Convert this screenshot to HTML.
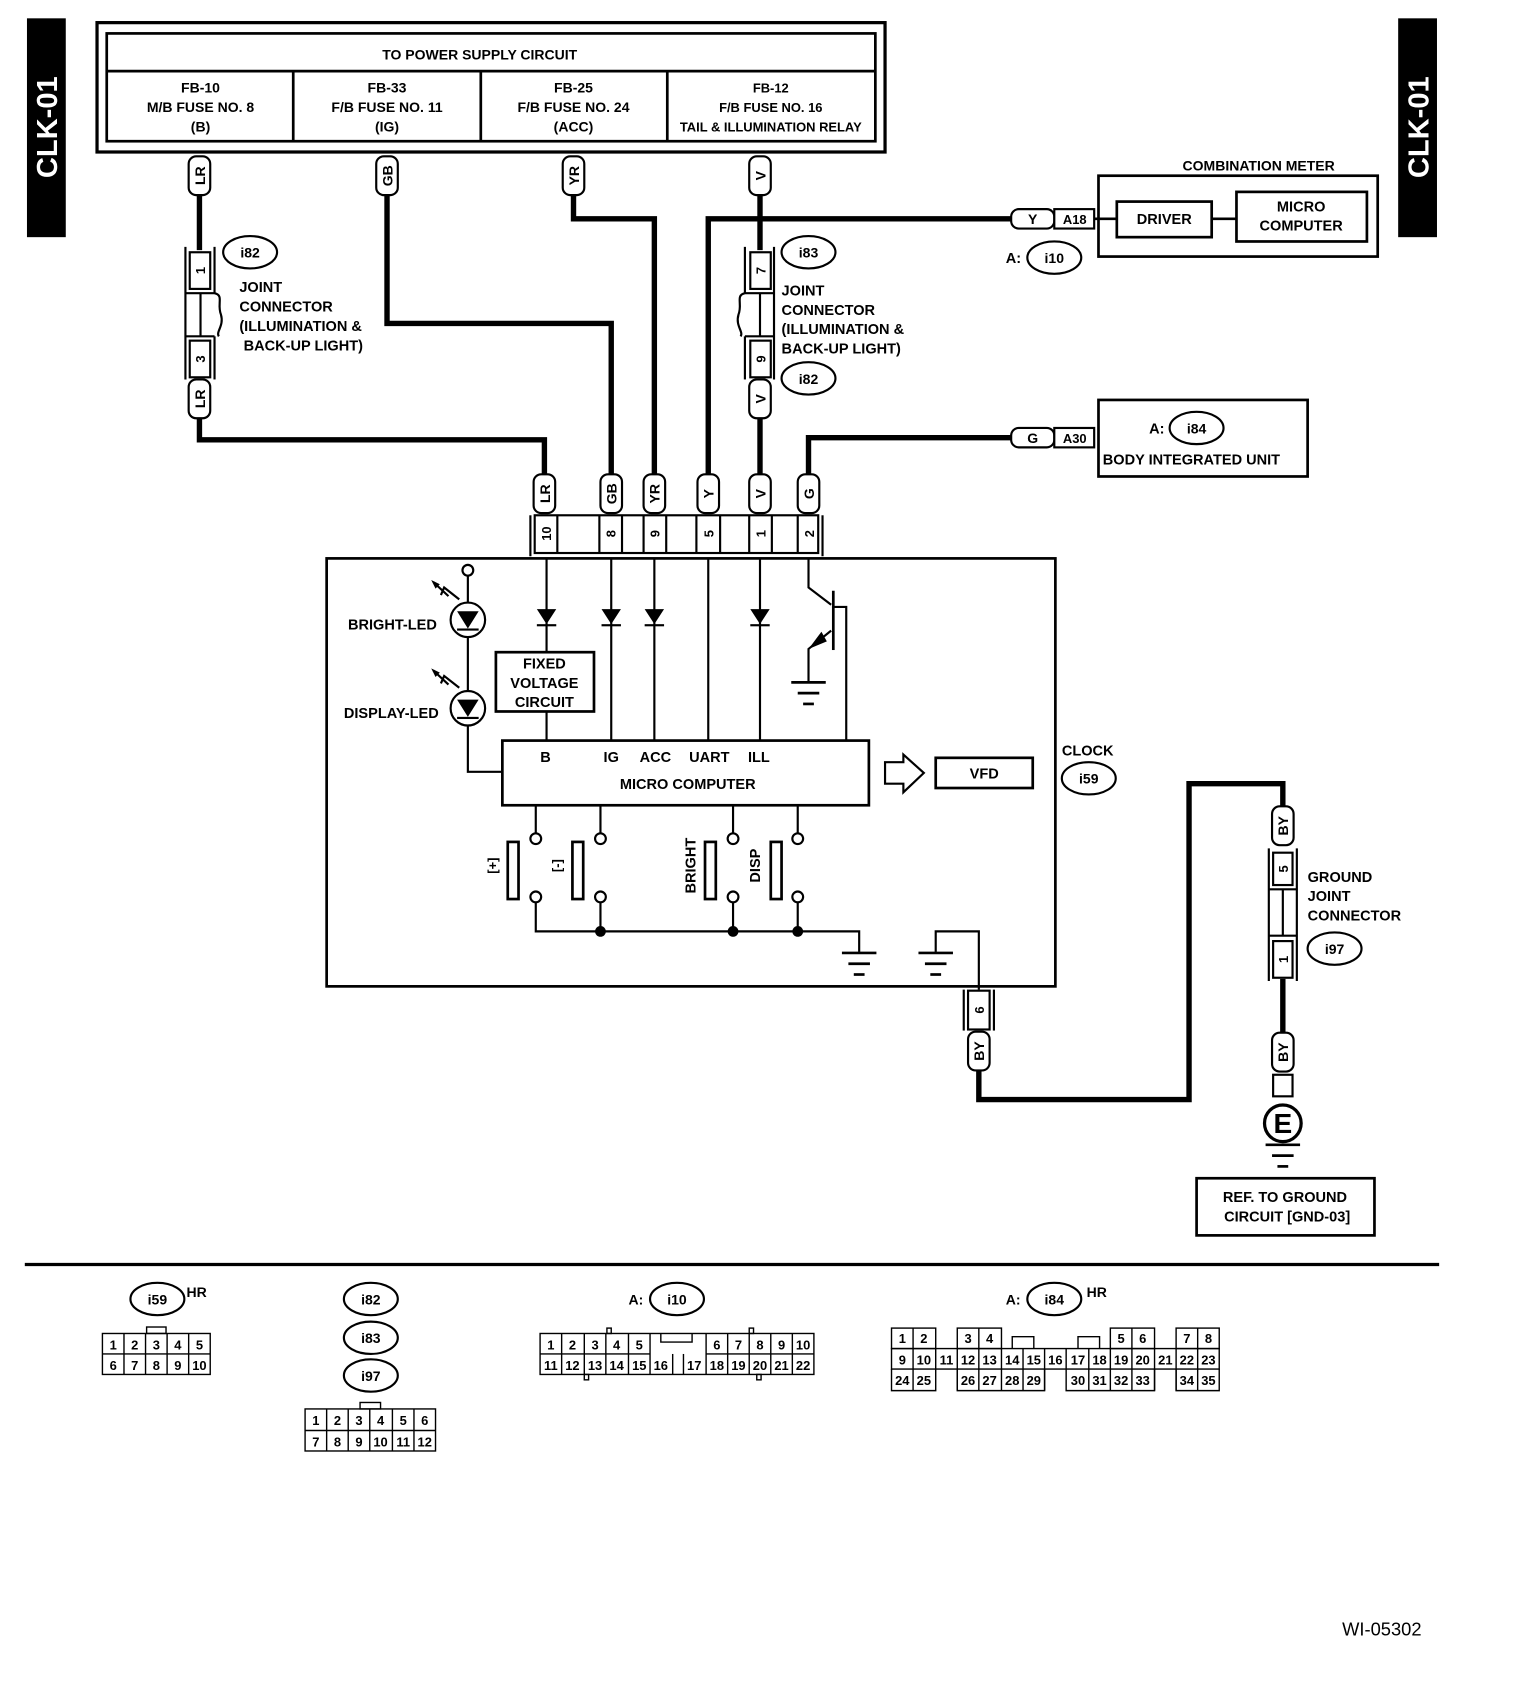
<!DOCTYPE html>
<html><head><meta charset="utf-8"><style>
html,body{margin:0;padding:0;background:#fff}
svg{display:block}
text{font-family:"Liberation Sans",sans-serif;font-weight:bold;fill:#000}
</style></head><body>
<svg width="1520" height="1700" viewBox="0 0 1410 1577" xmlns="http://www.w3.org/2000/svg">
<defs>
<g id="gnd"><line x1="-16" y1="0" x2="16" y2="0" stroke="#000" stroke-width="2.5"/><line x1="-10" y1="10" x2="10" y2="10" stroke="#000" stroke-width="2.5"/><line x1="-5" y1="20" x2="5" y2="20" stroke="#000" stroke-width="2.5"/></g>
<path id="dio" d="M-9,-8 L9,-8 L0,7 Z M-9,8 L9,8" fill="#000" stroke="#000" stroke-width="2"/>
</defs>
<rect width="1410" height="1577" fill="#fff"/>
<!-- CLK-01 tabs -->
<rect x="25" y="17" width="36" height="203" fill="#000"/>
<text transform="translate(53,118) rotate(-90)" text-anchor="middle" font-size="27" style="fill:#fff">CLK-01</text>
<rect x="1297" y="17" width="36" height="203" fill="#000"/>
<text transform="translate(1325,118) rotate(-90)" text-anchor="middle" font-size="27" style="fill:#fff">CLK-01</text>

<g fill="none" stroke="#000">
<!-- power box -->
<rect x="90" y="21" width="731" height="120" stroke-width="3"/>
<rect x="99" y="31" width="713" height="100" stroke-width="2.5"/>
<line x1="99" y1="66" x2="812" y2="66" stroke-width="2.5"/>
<line x1="272" y1="66" x2="272" y2="131" stroke-width="2.5"/>
<line x1="446" y1="66" x2="446" y2="131" stroke-width="2.5"/>
<line x1="619" y1="66" x2="619" y2="131" stroke-width="2.5"/>

<!-- thick wires -->
<g stroke-width="5">
<polyline points="185,180 185,232"/>
<polyline points="185,388 185,408 505,408 505,440"/>
<polyline points="359,180 359,300 567,300 567,440"/>
<polyline points="532,180 532,203 607,203 607,440"/>
<polyline points="657,440 657,203 938,203"/>
<polyline points="705,180 705,232"/>
<polyline points="705,388 705,440"/>
<polyline points="750,440 750,406 938,406"/>
<polyline points="908,993 908,1020 1103,1020 1103,727 1190,727 1190,748"/>
<polyline points="1190,908 1190,958"/>
</g>
</g>
<text x="445" y="55" font-size="13" text-anchor="middle">TO POWER SUPPLY CIRCUIT</text>
<g font-size="13" text-anchor="middle">
<text x="186" y="86">FB-10</text><text x="186" y="104">M/B FUSE NO. 8</text><text x="186" y="122">(B)</text>
<text x="359" y="86">FB-33</text><text x="359" y="104">F/B FUSE NO. 11</text><text x="359" y="122">(IG)</text>
<text x="532" y="86">FB-25</text><text x="532" y="104">F/B FUSE NO. 24</text><text x="532" y="122">(ACC)</text>
<text x="715" y="86" font-size="12">FB-12</text><text x="715" y="104" font-size="12">F/B FUSE NO. 16</text><text x="715" y="122" font-size="12">TAIL &amp; ILLUMINATION RELAY</text>
</g>

<!-- pills -->
<g font-size="13" text-anchor="middle" stroke="#000" stroke-width="2">
<g transform="translate(185,163)"><rect x="-10" y="-18" width="20" height="36" rx="7" fill="#fff"/><text transform="rotate(-90)" y="5" stroke="none">LR</text></g>
<g transform="translate(359,163)"><rect x="-10" y="-18" width="20" height="36" rx="7" fill="#fff"/><text transform="rotate(-90)" y="5" stroke="none">GB</text></g>
<g transform="translate(532,163)"><rect x="-10" y="-18" width="20" height="36" rx="7" fill="#fff"/><text transform="rotate(-90)" y="5" stroke="none">YR</text></g>
<g transform="translate(705,163)"><rect x="-10" y="-18" width="20" height="36" rx="7" fill="#fff"/><text transform="rotate(-90)" y="5" stroke="none">V</text></g>
<g transform="translate(185,370)"><rect x="-10" y="-18" width="20" height="36" rx="7" fill="#fff"/><text transform="rotate(-90)" y="5" stroke="none">LR</text></g>
<g transform="translate(705,370)"><rect x="-10" y="-18" width="20" height="36" rx="7" fill="#fff"/><text transform="rotate(-90)" y="5" stroke="none">V</text></g>
<g transform="translate(505,458)"><rect x="-10" y="-18" width="20" height="36" rx="7" fill="#fff"/><text transform="rotate(-90)" y="5" stroke="none">LR</text></g>
<g transform="translate(567,458)"><rect x="-10" y="-18" width="20" height="36" rx="7" fill="#fff"/><text transform="rotate(-90)" y="5" stroke="none">GB</text></g>
<g transform="translate(607,458)"><rect x="-10" y="-18" width="20" height="36" rx="7" fill="#fff"/><text transform="rotate(-90)" y="5" stroke="none">YR</text></g>
<g transform="translate(657,458)"><rect x="-10" y="-18" width="20" height="36" rx="7" fill="#fff"/><text transform="rotate(-90)" y="5" stroke="none">Y</text></g>
<g transform="translate(705,458)"><rect x="-10" y="-18" width="20" height="36" rx="7" fill="#fff"/><text transform="rotate(-90)" y="5" stroke="none">V</text></g>
<g transform="translate(750,458)"><rect x="-10" y="-18" width="20" height="36" rx="7" fill="#fff"/><text transform="rotate(-90)" y="5" stroke="none">G</text></g>
<g transform="translate(908,975)"><rect x="-10" y="-18" width="20" height="36" rx="7" fill="#fff"/><text transform="rotate(-90)" y="5" stroke="none">BY</text></g>
<g transform="translate(1190,766)"><rect x="-10" y="-18" width="20" height="36" rx="7" fill="#fff"/><text transform="rotate(-90)" y="5" stroke="none">BY</text></g>
<g transform="translate(1190,976)"><rect x="-10" y="-18" width="20" height="36" rx="7" fill="#fff"/><text transform="rotate(-90)" y="5" stroke="none">BY</text></g>
<!-- horizontal pills -->
<rect x="938" y="194" width="40" height="18" rx="7" fill="#fff"/><text x="958" y="208" stroke="none">Y</text>
<rect x="978" y="194" width="37" height="18" fill="#fff"/><text x="997" y="208" stroke="none" font-size="12">A18</text>
<rect x="938" y="397" width="40" height="18" rx="7" fill="#fff"/><text x="958" y="411" stroke="none">G</text>
<rect x="978" y="397" width="37" height="18" fill="#fff"/><text x="997" y="411" stroke="none" font-size="12">A30</text>
</g>

<!-- joint connectors -->
<g fill="none" stroke="#000" stroke-width="2">
<line x1="172" y1="229" x2="172" y2="352"/><line x1="199" y1="229" x2="199" y2="272"/><line x1="199" y1="312" x2="199" y2="352"/>
<rect x="176" y="234" width="19" height="34" fill="#fff"/>
<rect x="176" y="316" width="19" height="34" fill="#fff"/>
<line x1="172" y1="272" x2="199" y2="272"/><line x1="172" y1="312" x2="199" y2="312"/><line x1="186" y1="272" x2="186" y2="312"/>
<path d="M199,272 C208,274 201,282 205,292 C208,302 200,308 203,312"/>
<line x1="691" y1="229" x2="691" y2="272"/><line x1="691" y1="312" x2="691" y2="352"/><line x1="718" y1="229" x2="718" y2="352"/>
<rect x="696" y="234" width="19" height="34" fill="#fff"/>
<rect x="696" y="316" width="19" height="34" fill="#fff"/>
<line x1="691" y1="272" x2="718" y2="272"/><line x1="691" y1="312" x2="718" y2="312"/><line x1="705" y1="272" x2="705" y2="312"/>
<path d="M691,272 C682,274 689,282 685,292 C682,302 690,308 687,312"/>
<!-- ground joint -->
<line x1="1177" y1="787" x2="1177" y2="910"/><line x1="1203" y1="787" x2="1203" y2="910"/>
<rect x="1181" y="791" width="18" height="30" fill="#fff"/>
<rect x="1181" y="873" width="18" height="34" fill="#fff"/>
<line x1="1177" y1="825" x2="1203" y2="825"/><line x1="1177" y1="868" x2="1203" y2="868"/><line x1="1190" y1="825" x2="1190" y2="868"/>
<rect x="1181" y="997" width="18" height="20" fill="#fff"/>
<circle cx="1190" cy="1042" r="17" stroke-width="3"/>
<!-- connector 6 -->
<line x1="894" y1="918" x2="894" y2="956"/><line x1="922" y1="918" x2="922" y2="956"/>
<rect x="898" y="919" width="20" height="36" fill="#fff"/>
</g>
<g font-size="12" text-anchor="middle">
<text transform="translate(190,251) rotate(-90)">1</text>
<text transform="translate(190,333) rotate(-90)">3</text>
<text transform="translate(710,251) rotate(-90)">7</text>
<text transform="translate(710,333) rotate(-90)">9</text>
<text transform="translate(1195,806) rotate(-90)">5</text>
<text transform="translate(1195,890) rotate(-90)">1</text>
<text transform="translate(913,937) rotate(-90)">6</text>
</g>
<text x="1190" y="1051" font-size="26" text-anchor="middle">E</text>
<use href="#gnd" x="1190" y="1062"/>

<!-- labels -->
<g font-size="13.5">
<text x="222" y="271">JOINT</text><text x="222" y="289">CONNECTOR</text><text x="222" y="307">(ILLUMINATION &amp;</text><text x="226" y="325">BACK-UP LIGHT)</text>
<text x="725" y="274">JOINT</text><text x="725" y="292">CONNECTOR</text><text x="725" y="310">(ILLUMINATION &amp;</text><text x="725" y="328">BACK-UP LIGHT)</text>
<text x="1213" y="818">GROUND</text><text x="1213" y="836">JOINT</text><text x="1213" y="854">CONNECTOR</text>
<text x="1097" y="158" font-size="13">COMBINATION METER</text>
<text x="985" y="701">CLOCK</text>
<text x="933" y="244">A:</text>
<text x="1066" y="402">A:</text>
<text x="1023" y="431">BODY INTEGRATED UNIT</text>
</g>
<!-- ovals -->
<g fill="none" stroke="#000" stroke-width="2">
<ellipse cx="232" cy="234" rx="25" ry="15"/><ellipse cx="750" cy="234" rx="25" ry="15"/>
<ellipse cx="750" cy="351" rx="25" ry="15"/><ellipse cx="978" cy="239" rx="25" ry="15"/>
<ellipse cx="1110" cy="397" rx="25" ry="15"/><ellipse cx="1010" cy="722" rx="25" ry="15"/>
<ellipse cx="1238" cy="880" rx="25" ry="15"/>
<ellipse cx="146" cy="1205" rx="25" ry="15"/><ellipse cx="344" cy="1205" rx="25" ry="15"/>
<ellipse cx="344" cy="1241" rx="25" ry="15"/><ellipse cx="344" cy="1276" rx="25" ry="15"/>
<ellipse cx="628" cy="1205" rx="25" ry="15"/><ellipse cx="978" cy="1205" rx="25" ry="15"/>
</g>
<g font-size="13" text-anchor="middle">
<text x="232" y="239">i82</text><text x="750" y="239">i83</text><text x="750" y="356">i82</text>
<text x="978" y="244">i10</text><text x="1110" y="402">i84</text><text x="1010" y="727">i59</text>
<text x="1238" y="885">i97</text><text x="146" y="1210">i59</text><text x="344" y="1210">i82</text>
<text x="344" y="1246">i83</text><text x="344" y="1281">i97</text><text x="628" y="1210">i10</text>
<text x="978" y="1210">i84</text>
</g>
<text x="173" y="1203" font-size="13">HR</text>
<text x="583" y="1210" font-size="13">A:</text>
<text x="933" y="1210" font-size="13">A:</text>
<text x="1008" y="1203" font-size="13">HR</text>

<!-- combination meter / body unit boxes -->
<g fill="none" stroke="#000" stroke-width="2.5">
<rect x="1019" y="163" width="259" height="75"/>
<rect x="1036" y="187" width="88" height="33"/>
<rect x="1147" y="178" width="121" height="46"/>
<line x1="1015" y1="203" x2="1036" y2="203"/><line x1="1124" y1="203" x2="1147" y2="203"/>
<rect x="1019" y="371" width="194" height="71"/>
<rect x="1110" y="1093" width="165" height="53"/>
</g>
<g font-size="13.5" text-anchor="middle">
<text x="1080" y="208">DRIVER</text>
<text x="1207" y="196">MICRO</text><text x="1207" y="214">COMPUTER</text>
<text x="1192" y="1115">REF. TO GROUND</text><text x="1194" y="1133">CIRCUIT [GND-03]</text>
</g>

<!-- clock pin header -->
<g fill="none" stroke="#000" stroke-width="2">
<line x1="492" y1="478" x2="492" y2="516"/><line x1="763" y1="478" x2="763" y2="516"/>
<rect x="496" y="478" width="263" height="35"/>
<line x1="517" y1="478" x2="517" y2="513"/>
<line x1="556" y1="478" x2="556" y2="513"/><line x1="577" y1="478" x2="577" y2="513"/>
<line x1="597" y1="478" x2="597" y2="513"/><line x1="618" y1="478" x2="618" y2="513"/>
<line x1="646" y1="478" x2="646" y2="513"/><line x1="668" y1="478" x2="668" y2="513"/>
<line x1="695" y1="478" x2="695" y2="513"/><line x1="716" y1="478" x2="716" y2="513"/>
<line x1="740" y1="478" x2="740" y2="513"/>
<!-- clock box -->
<rect x="303" y="518" width="676" height="397" stroke-width="2.5"/>
</g>
<g font-size="12" text-anchor="middle">
<text transform="translate(511,495) rotate(-90)">10</text>
<text transform="translate(571,495) rotate(-90)">8</text>
<text transform="translate(612,495) rotate(-90)">9</text>
<text transform="translate(662,495) rotate(-90)">5</text>
<text transform="translate(710,495) rotate(-90)">1</text>
<text transform="translate(755,495) rotate(-90)">2</text>
</g>

<!-- clock internals -->
<g fill="none" stroke="#000" stroke-width="2">
<line x1="507" y1="518" x2="507" y2="605"/><line x1="507" y1="660" x2="507" y2="687"/>
<line x1="567" y1="518" x2="567" y2="687"/><line x1="607" y1="518" x2="607" y2="687"/>
<line x1="657" y1="518" x2="657" y2="687"/><line x1="705" y1="518" x2="705" y2="687"/>
<rect x="460" y="605" width="91" height="55" stroke-width="2.5"/>
<!-- transistor -->
<polyline points="750,518 750,545 771,561"/>
<line x1="773" y1="548" x2="773" y2="603" stroke-width="2.5"/>
<polyline points="773,563 785,563 785,687"/>
<polyline points="771,585 750,602 750,632"/>
<!-- LEDs -->
<circle cx="434" cy="529" r="5" fill="#fff"/>
<polyline points="434,534 434,716 466,716"/>
<circle cx="434" cy="575" r="16" fill="#fff"/>
<circle cx="434" cy="657" r="16" fill="#fff"/>
<path d="M402,540 L416,553 M409,552 L412,545 L426,556" />
<path d="M402,622 L416,635 M409,634 L412,627 L426,638" />
<!-- micro computer -->
<rect x="466" y="687" width="340" height="60" stroke-width="2.5"/>
<path d="M821,707 L838,707 L838,700 L857,717 L838,735 L838,727 L821,727 Z" stroke-width="2"/>
<rect x="868" y="703" width="90" height="28" stroke-width="2.5"/>
<!-- switches -->
<line x1="497" y1="747" x2="497" y2="773"/><line x1="557" y1="747" x2="557" y2="773"/>
<line x1="680" y1="747" x2="680" y2="773"/><line x1="740" y1="747" x2="740" y2="773"/>
<circle cx="497" cy="778" r="5"/><circle cx="557" cy="778" r="5"/><circle cx="680" cy="778" r="5"/><circle cx="740" cy="778" r="5"/>
<circle cx="497" cy="832" r="5"/><circle cx="557" cy="832" r="5"/><circle cx="680" cy="832" r="5"/><circle cx="740" cy="832" r="5"/>
<rect x="471" y="781" width="10" height="53" stroke-width="2.5"/>
<rect x="531" y="781" width="10" height="53" stroke-width="2.5"/>
<rect x="654" y="781" width="10" height="53" stroke-width="2.5"/>
<rect x="715" y="781" width="10" height="53" stroke-width="2.5"/>
<polyline points="497,837 497,864 797,864 797,883"/>
<line x1="557" y1="837" x2="557" y2="864"/><line x1="680" y1="837" x2="680" y2="864"/><line x1="740" y1="837" x2="740" y2="864"/>
<polyline points="868,883 868,864 908,864 908,918"/>
</g>
<g fill="#000">
<path d="M498,565 L516,565 L507,579 Z"/><rect x="498" y="579" width="18" height="2"/>
<path d="M558,565 L576,565 L567,579 Z"/><rect x="558" y="579" width="18" height="2"/>
<path d="M598,565 L616,565 L607,579 Z"/><rect x="598" y="579" width="18" height="2"/>
<path d="M696,565 L714,565 L705,579 Z"/><rect x="696" y="579" width="18" height="2"/>
<path d="M424,567 L444,567 L434,583 Z"/><rect x="424" y="583" width="20" height="2"/>
<path d="M424,649 L444,649 L434,665 Z"/><rect x="424" y="665" width="20" height="2"/>
<path d="M750,602 L762,586 L767,595 Z"/>
<path d="M400,538 L408,542 L404,546 Z"/><path d="M400,620 L408,624 L404,628 Z"/>
<circle cx="557" cy="864" r="5"/><circle cx="680" cy="864" r="5"/><circle cx="740" cy="864" r="5"/>
</g>
<use href="#gnd" x="750" y="633"/>
<use href="#gnd" x="797" y="884"/>
<use href="#gnd" x="868" y="884"/>
<g font-size="13.5" text-anchor="middle">
<text x="364" y="584">BRIGHT-LED</text>
<text x="363" y="666">DISPLAY-LED</text>
<text x="505" y="620">FIXED</text><text x="505" y="638">VOLTAGE</text><text x="505" y="656">CIRCUIT</text>
<text x="506" y="707">B</text><text x="567" y="707">IG</text><text x="608" y="707">ACC</text>
<text x="658" y="707">UART</text><text x="704" y="707">ILL</text>
<text x="638" y="732">MICRO COMPUTER</text>
<text x="913" y="722">VFD</text>
<text transform="translate(461,803) rotate(-90)" font-size="12">[+]</text>
<text transform="translate(521,803) rotate(-90)" font-size="12">[-]</text>
<text transform="translate(645,803) rotate(-90)">BRIGHT</text>
<text transform="translate(705,803) rotate(-90)">DISP</text>
</g>

<!-- separator -->
<line x1="23" y1="1173" x2="1335" y2="1173" stroke="#000" stroke-width="3"/>

<!-- bottom connectors -->
<g fill="none" stroke="#000" stroke-width="1.3">
<!-- i59 -->
<rect x="95" y="1237" width="100" height="38"/><line x1="95" y1="1256" x2="195" y2="1256"/>
<line x1="115" y1="1237" x2="115" y2="1275"/><line x1="135" y1="1237" x2="135" y2="1275"/><line x1="155" y1="1237" x2="155" y2="1275"/><line x1="175" y1="1237" x2="175" y2="1275"/>
<rect x="136" y="1231" width="18" height="6"/>
<!-- i82 12 pin -->
<rect x="283" y="1307" width="121" height="39"/><line x1="283" y1="1327" x2="404" y2="1327"/>
<line x1="303" y1="1307" x2="303" y2="1346"/><line x1="323" y1="1307" x2="323" y2="1346"/><line x1="343" y1="1307" x2="343" y2="1346"/><line x1="364" y1="1307" x2="364" y2="1346"/><line x1="384" y1="1307" x2="384" y2="1346"/>
<rect x="334" y="1301" width="19" height="6"/>
<!-- i10 -->
<rect x="501" y="1237" width="254" height="38"/><line x1="501" y1="1256" x2="603" y2="1256"/><line x1="655" y1="1256" x2="755" y2="1256"/>
<line x1="521" y1="1237" x2="521" y2="1275"/><line x1="542" y1="1237" x2="542" y2="1275"/><line x1="562" y1="1237" x2="562" y2="1275"/><line x1="583" y1="1237" x2="583" y2="1275"/><line x1="603" y1="1237" x2="603" y2="1275"/>
<line x1="624" y1="1256" x2="624" y2="1275"/><line x1="634" y1="1256" x2="634" y2="1275"/>
<line x1="655" y1="1237" x2="655" y2="1275"/><line x1="675" y1="1237" x2="675" y2="1275"/><line x1="695" y1="1237" x2="695" y2="1275"/><line x1="715" y1="1237" x2="715" y2="1275"/><line x1="735" y1="1237" x2="735" y2="1275"/>
<polyline points="613,1237 613,1245 642,1245 642,1237"/>
<rect x="563" y="1232" width="4" height="5"/><rect x="695" y="1232" width="4" height="5"/>
<rect x="542" y="1275" width="4" height="5"/><rect x="702" y="1275" width="4" height="5"/>
<!-- i84 -->
<rect x="827" y="1251" width="304" height="19"/>
<rect x="827" y="1232" width="41" height="19"/><line x1="847" y1="1232" x2="847" y2="1251"/>
<rect x="888" y="1232" width="41" height="19"/><line x1="908" y1="1232" x2="908" y2="1251"/>
<rect x="1030" y="1232" width="41" height="19"/><line x1="1050" y1="1232" x2="1050" y2="1251"/>
<rect x="1091" y="1232" width="40" height="19"/><line x1="1111" y1="1232" x2="1111" y2="1251"/>
<polyline points="939,1251 939,1240 959,1240 959,1251"/><polyline points="1000,1251 1000,1240 1020,1240 1020,1251"/>
<line x1="847" y1="1251" x2="847" y2="1290"/><line x1="868" y1="1251" x2="868" y2="1270"/><line x1="888" y1="1251" x2="888" y2="1290"/>
<line x1="908" y1="1251" x2="908" y2="1290"/><line x1="929" y1="1251" x2="929" y2="1290"/><line x1="949" y1="1251" x2="949" y2="1290"/>
<line x1="969" y1="1251" x2="969" y2="1290"/><line x1="989" y1="1251" x2="989" y2="1270"/><line x1="1010" y1="1251" x2="1010" y2="1290"/>
<line x1="1030" y1="1251" x2="1030" y2="1290"/><line x1="1050" y1="1251" x2="1050" y2="1290"/><line x1="1071" y1="1251" x2="1071" y2="1290"/>
<line x1="1091" y1="1251" x2="1091" y2="1290"/><line x1="1111" y1="1251" x2="1111" y2="1290"/>
<polyline points="827,1270 827,1290 868,1290 868,1270"/>
<polyline points="888,1270 888,1290 969,1290 969,1270"/>
<polyline points="989,1270 989,1290 1071,1290 1071,1270"/>
<polyline points="1091,1270 1091,1290 1131,1290 1131,1270"/>
</g>
<g font-size="12" text-anchor="middle" style="font-weight:normal">
<text x="105" y="1252">1</text><text x="125" y="1252">2</text><text x="145" y="1252">3</text><text x="165" y="1252">4</text><text x="185" y="1252">5</text>
<text x="105" y="1271">6</text><text x="125" y="1271">7</text><text x="145" y="1271">8</text><text x="165" y="1271">9</text><text x="185" y="1271">10</text>
<text x="293" y="1322">1</text><text x="313" y="1322">2</text><text x="333" y="1322">3</text><text x="353" y="1322">4</text><text x="374" y="1322">5</text><text x="394" y="1322">6</text>
<text x="293" y="1342">7</text><text x="313" y="1342">8</text><text x="333" y="1342">9</text><text x="353" y="1342">10</text><text x="374" y="1342">11</text><text x="394" y="1342">12</text>
<text x="511" y="1252">1</text><text x="531" y="1252">2</text><text x="552" y="1252">3</text><text x="572" y="1252">4</text><text x="593" y="1252">5</text>
<text x="665" y="1252">6</text><text x="685" y="1252">7</text><text x="705" y="1252">8</text><text x="725" y="1252">9</text><text x="745" y="1252">10</text>
<text x="511" y="1271">11</text><text x="531" y="1271">12</text><text x="552" y="1271">13</text><text x="572" y="1271">14</text><text x="593" y="1271">15</text><text x="613" y="1271">16</text>
<text x="644" y="1271">17</text><text x="665" y="1271">18</text><text x="685" y="1271">19</text><text x="705" y="1271">20</text><text x="725" y="1271">21</text><text x="745" y="1271">22</text>
<text x="837" y="1246">1</text><text x="857" y="1246">2</text><text x="898" y="1246">3</text><text x="918" y="1246">4</text>
<text x="1040" y="1246">5</text><text x="1060" y="1246">6</text><text x="1101" y="1246">7</text><text x="1121" y="1246">8</text>
<text x="837" y="1266">9</text><text x="857" y="1266">10</text><text x="878" y="1266">11</text><text x="898" y="1266">12</text><text x="918" y="1266">13</text>
<text x="939" y="1266">14</text><text x="959" y="1266">15</text><text x="979" y="1266">16</text><text x="1000" y="1266">17</text><text x="1020" y="1266">18</text>
<text x="1040" y="1266">19</text><text x="1060" y="1266">20</text><text x="1081" y="1266">21</text><text x="1101" y="1266">22</text><text x="1121" y="1266">23</text>
<text x="837" y="1285">24</text><text x="857" y="1285">25</text><text x="898" y="1285">26</text><text x="918" y="1285">27</text><text x="939" y="1285">28</text><text x="959" y="1285">29</text>
<text x="1000" y="1285">30</text><text x="1020" y="1285">31</text><text x="1040" y="1285">32</text><text x="1060" y="1285">33</text><text x="1101" y="1285">34</text><text x="1121" y="1285">35</text>
</g>
<text x="1245" y="1517" font-size="17" style="font-weight:normal">WI-05302</text>
</svg>
</body></html>
